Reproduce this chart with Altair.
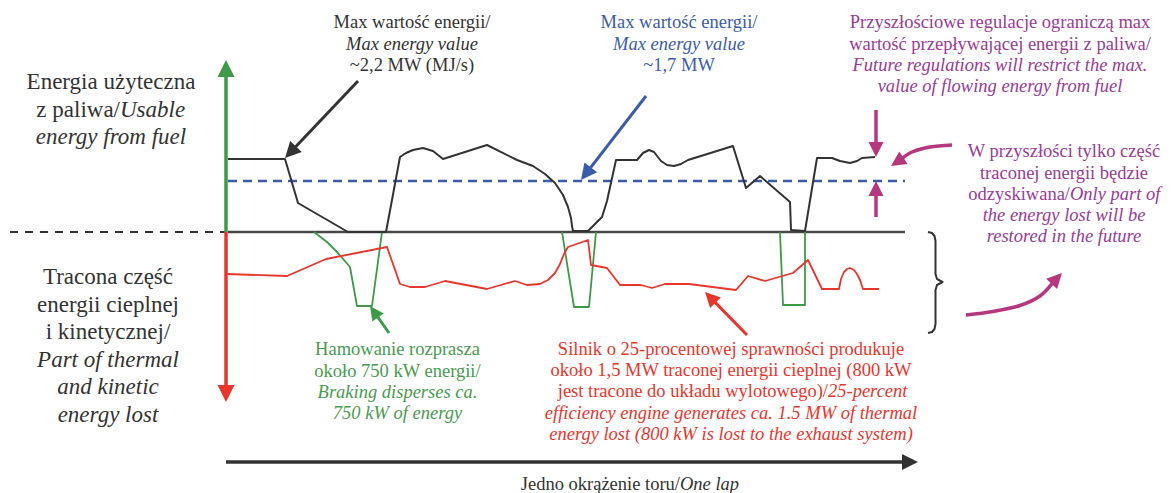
import math
import altair as alt
import pandas as pd

# ---------------- data (schematic units: lap position vs. energy flow) ----------------
# Usable energy from fuel (black line)
fuel_lap = [2, 59, 72, 122, 160, 174, 180, 187, 197, 207, 217, 261, 291, 307, 319,
            329, 337, 342, 345, 346, 347, 362, 376, 381, 390, 411, 417, 423, 428, 435,
            441, 448, 455, 462, 507, 520, 534, 564, 565, 579, 591, 606, 614, 624, 631,
            636, 649]
fuel_energy = [73, 73, 29, 0, 0, 75, 79, 82, 84, 81, 73, 87, 72, 66, 58,
               49, 37, 25, 14, 6, 1, 1, 15, 31, 72, 72, 79, 82, 80, 71,
               67, 66, 68, 72, 86, 44, 56, 30, 2, 1, 74, 74, 71, 69, 71,
               74, 75]

# Thermal energy lost (red line)
lost_lap = [0, 61, 100, 161, 174, 184, 199, 219, 261, 289, 301, 314, 322, 329, 334,
            338, 342, 362, 365, 381, 394, 415, 426, 439, 463, 510, 522, 539, 567, 582,
            596, 613, 615, 618, 621, 624, 628, 631, 634, 637, 653]
lost_energy = [-42, -44, -27, -15, -52, -55, -55, -49, -57, -49, -53, -52, -48, -41, -32,
               -22, -15, -8, -33, -36, -53, -53, -56, -52, -52, -58, -44, -49, -41, -28,
               -57, -57, -47, -40, -37, -36, -38, -42, -48, -57, -57]

# Braking events (green line)
brake_lap = [88, 101, 112, 124, 131, 146, 156, 336, 348, 363, 370, 554, 557, 579, 579]
brake_energy = [0, -10, -21, -35, -74, -74, 0, 0, -75, -75, 0, 0, -73, -73, 0]
brake_event = [1, 1, 1, 1, 1, 1, 1, 2, 2, 2, 2, 3, 3, 3, 3]

# Future maximum energy flow (~1,7 MW) and reference level
limit_lap = [2, 679]
limit_energy = [51, 51]
zero_lap = [2, 679]
zero_energy = [0, 0]
lead_lap = [-216, 0]
lead_energy = [0, 0]

# ---------------- texts ----------------
fuel_label = ["Energia użyteczna", "z paliwa/|Usable", "energy from fuel"]
lost_label = ["Tracona część", "energii cieplnej", "i kinetycznej/",
              "Part of thermal", "and kinetic", "energy lost"]
max_now = ["Max wartość energii/", "Max energy value", "~2,2 MW (MJ/s)"]
max_future = ["Max wartość energii/", "Max energy value", "~1,7 MW"]
regulations = ["Przyszłościowe regulacje ograniczą max",
               "wartość przepływającej energii z paliwa/",
               "Future regulations will restrict the max.",
               "value of flowing energy from fuel"]
recovery = ["W przyszłości tylko część", "traconej energii będzie",
            "odzyskiwana/|Only part of", "the energy lost will be",
            "restored in the future"]
braking = ["Hamowanie rozprasza", "około 750 kW energii/",
           "Braking disperses ca.", "750 kW of energy"]
engine = ["Silnik o 25-procentowej sprawności produkuje",
          "około 1,5 MW traconej energii cieplnej (800 kW",
          "jest tracone do układu wylotowego)/|25-percent",
          "efficiency engine generates ca. 1.5 MW of thermal",
          "energy lost (800 kW is lost to the exhaust system)"]
lap_label = ["Jedno okrążenie toru/|One lap"]

# ---------------- layout ----------------
W, H, MARGIN = 1155, 485, 8
X0, Y0 = 226, 232          # picture position of the origin (lap 0, energy 0)


def lx(px):
    return px - X0


def ey(py):
    return Y0 - py


INK = "#333333"
AXIS_INK = "#474747"
BLUE = "#3b5ca8"
RED = "#e8362d"
GREEN = "#3f9a48"
GREEN_TXT = "#4a9a50"
PURPLE = "#983c96"
MAGENTA = "#b5377e"
FONT = "Liberation Serif, Times New Roman, DejaVu Serif, serif"

xs = alt.Scale(domain=[MARGIN - X0, MARGIN + W - X0], nice=False, zero=False)
ys = alt.Scale(domain=[Y0 - (MARGIN + H), Y0 - MARGIN], nice=False, zero=False)
X = alt.X("x:Q", scale=xs, axis=None)
Y = alt.Y("y:Q", scale=ys, axis=None)

layers = []


def path_layer(xv, yv, color, width, dash=None, interp="linear", group=None):
    df = pd.DataFrame({"x": xv, "y": yv, "i": list(range(len(xv)))})
    kw = dict(color=color, strokeWidth=width, interpolate=interp, strokeJoin="round")
    if dash is not None:
        kw["strokeDash"] = dash
    enc = dict(x=X, y=Y, order=alt.Order("i:Q"))
    if group is not None:
        df["g"] = group
        enc["detail"] = "g:N"
    return alt.Chart(df).mark_line(**kw).encode(**enc)


# reference levels
layers.append(path_layer(lead_lap, lead_energy, INK, 2, dash=[8, 7]))
layers.append(path_layer(zero_lap, zero_energy, AXIS_INK, 2.5))
layers.append(path_layer(limit_lap, limit_energy, BLUE, 2.5, dash=[9, 6]))
# series
layers.append(path_layer(brake_lap, brake_energy, GREEN, 1.8, group=brake_event))
layers.append(path_layer(lost_lap, lost_energy, RED, 1.8))
layers.append(path_layer(fuel_lap, fuel_energy, INK, 2))

# curly brace (picture coordinates)
brace_px = [(928, 232), (932, 233), (934.5, 236), (935.5, 241), (935.5, 274), (937, 279),
            (942.5, 282), (937, 285), (935.5, 290), (935.5, 324), (934.5, 329), (932, 332),
            (928, 333)]
layers.append(path_layer([lx(p[0]) for p in brace_px], [ey(p[1]) for p in brace_px], INK, 2))

# arrows: picture points (last is the tip), colour, shaft width, head length, interpolation
arrows = [
    ([(226, 232), (226, 60)], GREEN, 3.5, 17, "linear"),
    ([(226, 232), (226, 402)], RED, 3.5, 17, "linear"),
    ([(226, 462), (918, 462)], INK, 3.5, 16, "linear"),
    ([(358, 81), (285, 158)], INK, 3, 16, "linear"),
    ([(646, 96), (581, 180)], BLUE, 3, 16, "linear"),
    ([(876, 110), (876, 157)], MAGENTA, 3.5, 15, "linear"),
    ([(876, 217), (876, 181)], MAGENTA, 3.5, 15, "linear"),
    ([(389, 333), (370, 306)], GREEN, 3, 14, "linear"),
    ([(747, 335), (705, 292)], RED, 3, 15, "linear"),
    ([(952, 145), (930, 147), (912, 152), (891, 166)], MAGENTA, 3.5, 15, "cardinal"),
    ([(966, 315), (993, 311.5), (1020, 305.5), (1040, 296), (1062, 273)], MAGENTA, 3.5, 15, "cardinal"),
]

heads = []
for pts, color, width, L, interp in arrows:
    d = [(lx(p[0]), ey(p[1])) for p in pts]
    tip, prev = d[-1], d[-2]
    dx, dy = tip[0] - prev[0], tip[1] - prev[1]
    n = math.hypot(dx, dy)
    ux, uy = dx / n, dy / n
    end = (tip[0] - ux * L * 0.8, tip[1] - uy * L * 0.8)
    shaft = d[:-1] + [end]
    layers.append(path_layer([p[0] for p in shaft], [p[1] for p in shaft], color, width, interp=interp))
    ang = math.degrees(math.atan2(dx, dy)) % 360
    heads.append(dict(x=tip[0], y=tip[1], angle=ang, size=(2 * L) ** 2, color=color))

HEAD = "M0,0L-0.5,1L0.5,1Z"
layers.append(
    alt.Chart(pd.DataFrame(heads)).mark_point(shape=HEAD, filled=True, opacity=1, strokeWidth=0).encode(
        x=X, y=Y,
        angle=alt.Angle("angle:Q", scale=None),
        size=alt.Size("size:Q", scale=None),
        color=alt.Color("color:N", scale=None),
    )
)

# text blocks: lines, styles, centre x, baselines, colour, size, split x for mixed lines
blocks = [
    (fuel_label, "nmi", 111, [89, 116.5, 144], INK, 23, 120),
    (lost_label, "nnniii", 108, [284, 311.5, 339, 366.5, 394, 421.5], INK, 23, None),
    (max_now, "nin", 412, [28.3, 49.5, 70.7], INK, 18.5, None),
    (max_future, "nin", 679, [28.3, 49.5, 70.7], BLUE, 18.5, None),
    (regulations, "nnii", 1000, [28.3, 50, 71, 92], PURPLE, 18.5, None),
    (recovery, "nnmii", 1064, [157.3, 178.5, 199.5, 220.5, 241.5], PURPLE, 18.5, 1070),
    (braking, "nnii", 397.5, [355, 376.5, 397.5, 418.5], GREEN_TXT, 18.5, None),
    (engine, "nnmii", 731, [355, 376, 397.3, 418.5, 439.5], RED, 18.5, 828),
    (lap_label, "m", 630, [490], INK, 18.5, 680),
]

rows = []
for lines, styles, cx, bases, color, size, split in blocks:
    for line, st, by in zip(lines, styles, bases):
        if st == "m":
            a, b = line.split("|")
            rows.append(dict(x=lx(split), y=ey(by), text=a, align="right", style="normal", color=color, size=size))
            rows.append(dict(x=lx(split), y=ey(by), text=b, align="left", style="italic", color=color, size=size))
        else:
            rows.append(dict(x=lx(cx), y=ey(by), text=line, align="center",
                             style="italic" if st == "i" else "normal", color=color, size=size))

tdf = pd.DataFrame(rows)
for (align, style), sub in tdf.groupby(["align", "style"]):
    layers.append(
        alt.Chart(sub.reset_index(drop=True)).mark_text(
            align=align, baseline="alphabetic", fontStyle=style, font=FONT
        ).encode(
            x=X, y=Y, text="text:N",
            size=alt.Size("size:Q", scale=None),
            color=alt.Color("color:N", scale=None),
        )
    )

chart = alt.layer(*layers).properties(
    width=W, height=H, padding=0, autosize=alt.AutoSizeParams(type="none")
).configure_view(stroke=None)

chart.save("out.html", embed_options={"renderer": "svg", "actions": False})
